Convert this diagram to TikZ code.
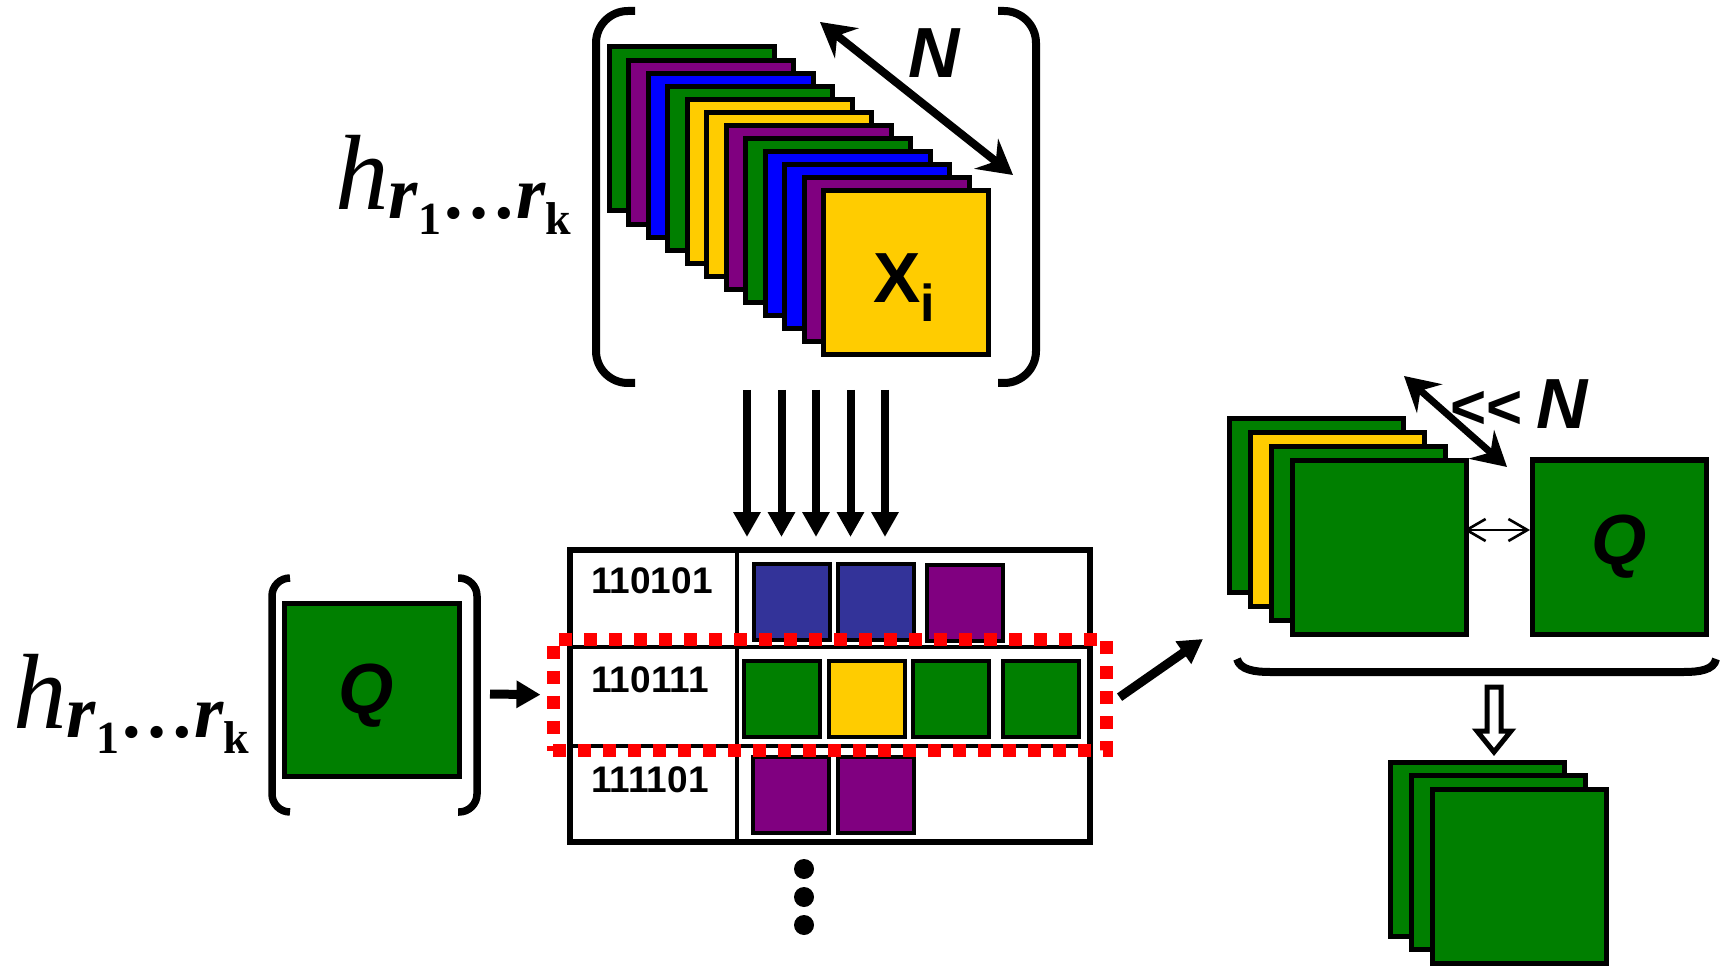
\documentclass[tikz,border=0pt]{standalone}
\usepackage{fontspec}
\setmainfont{Liberation Serif}
\setsansfont{Liberation Sans}
\usetikzlibrary{arrows.meta}
\definecolor{grn}{HTML}{007F00}
\definecolor{prp}{HTML}{800080}
\definecolor{blu}{HTML}{0000FF}
\definecolor{ylw}{HTML}{FFCC00}
\definecolor{ind}{HTML}{333399}
\newcommand{\hlab}{%
{\fontsize{53.5pt}{54pt}\selectfont\itshape h}%
\raisebox{-4.5pt}{\fontsize{37.5pt}{38pt}\selectfont\bfseries\itshape r\raisebox{-8pt}{\fontsize{23pt}{23pt}\selectfont\upshape 1}{\upshape\ldots}r\raisebox{-8pt}{\fontsize{23pt}{23pt}\selectfont\upshape k}}}
\begin{document}
\begin{tikzpicture}[x=0.5pt, y=-0.5pt,
  card/.style={draw, line width=2.5pt, minimum width=82.5pt, minimum height=82pt, inner sep=0pt},
  big/.style={draw, line width=2.5pt, minimum width=87pt, minimum height=87pt, inner sep=0pt},
  cell/.style={draw, line width=2pt, minimum width=38pt, minimum height=38pt, inner sep=0pt},
  brk/.style={line width=4pt, rounded corners=16pt},
  lbl/.style={font=\fontsize{35.5pt}{36pt}\selectfont\sffamily\bfseries},
  bits/.style={font=\fontsize{18.5pt}{19pt}\selectfont\sffamily\bfseries},
  fat/.style={line width=4.5pt, -{Triangle[length=12pt, width=13pt]}},
  both/.style={line width=4pt, {Stealth[length=17pt, width=19pt, inset=6pt]}-{Stealth[length=17pt, width=19pt, inset=6pt]}}]
\useasboundingbox (0,0) rectangle (1729,978);

% pila de imagenes X_i
\foreach \c [count=\i from 0] in {grn,prp,blu,grn,ylw,ylw,prp,grn,blu,blu,prp,ylw}
  \node[card, fill=\c] (x\i) at ({691.5+19.5*\i}, {129+13.05*\i}) {};
\node[lbl, anchor=base west, inner sep=0pt] (xi) at (873,303) {X\raisebox{-9.5pt}{\fontsize{26pt}{26pt}\selectfont i}};
\draw[brk] (635,11) -- (596,11) -- (596,383) -- (635,383);
\draw[brk] (998,11) -- (1036,11) -- (1036,383) -- (998,383);
\coordinate (n1) at (820,22);
\coordinate (n2) at (1013,175);
\draw[both] (n1) -- (n2);
\node[lbl] (nn) at (934,53) {\itshape N};
\node[anchor=base west, inner sep=0pt] (hup) at (335,210) {\hlab};

% tabla de cubetas
\node[draw, line width=3pt, minimum width=260pt, minimum height=146pt, inner sep=0pt] (tab) at (830,696) {};
\draw[line width=1.75pt] (737,550) -- (737,842);
\draw[line width=1.75pt] (570,647) -- (1090,647);
\draw[line width=1.75pt] (570,746) -- (1090,746);
\node[bits] (b1) at (652,581) {110101};
\node[bits] (b2) at (650,680) {110111};
\node[bits] (b3) at (650,780) {111101};
\foreach \c/\x/\y [count=\i] in {ind/792/602, ind/876/602, prp/965/603, grn/782/699, ylw/866.5/699, grn/950.5/699, grn/1041/699, prp/790.5/795, prp/875.5/795}
  \node[cell, fill=\c] (k\i) at (\x,\y) {};
\node[draw=red, line width=6.5pt, dash pattern=on 6.5pt off 6pt, minimum width=276.75pt, minimum height=55.75pt, inner sep=0pt] (sel) at (829.75,694.75) {};
\foreach \y in {869,897,925}
  \fill (804,\y) circle[radius=5pt];

% flechas hacia la tabla
\foreach \x [count=\i] in {747,781.5,816,850.5,885} {
  \coordinate (a\i) at (\x,390);
  \draw[line width=4pt, -{Triangle[length=12.5pt, width=13pt]}, shorten >=5pt] (a\i) -- (a\i |- tab.north);
}

% consulta Q
\node[anchor=base west, inner sep=0pt] (hlo) at (13,728) {\hlab};
\draw[brk, rounded corners=9pt, line width=3.75pt] (290,578) -- (272,578) -- (272,812) -- (290,812);
\draw[brk, rounded corners=9pt, line width=3.75pt] (458,578) -- (477,578) -- (477,812) -- (458,812);
\node[big, fill=grn, minimum width=87.5pt, minimum height=86.5pt] (q) at (372,690) {};
\node[lbl] (ql) at (366,696) {\itshape Q};
\coordinate (qo) at (490,694);
\draw[fat, shorten >=3pt] (qo) -- (sel.west);

% candidatos
\coordinate (ro) at (1203,639);
\draw[fat, shorten <=4pt] ([yshift=-3.5pt]sel.east) -- (ro);
\foreach \c [count=\i from 0] in {grn,ylw,grn,grn}
  \node[big, fill=\c] (s\i) at ({1316.5+21*\i}, {505.5+14*\i}) {};
\node[big, lbl, fill=grn] (rq) at (1619.5,547) {\itshape Q};
\draw[line width=1.3pt, {Straight Barb[length=9.5pt, width=11pt]}-{Straight Barb[length=9.5pt, width=11pt]}, shorten <=-2.5pt] ([yshift=8.75pt]s3.east) -- ([yshift=8.5pt]rq.west);
\coordinate (m1) at (1404,376);
\coordinate (m2) at (1507,467);
\draw[both, line width=3.5pt] (m1) -- (m2);
\node[lbl, anchor=base west, inner sep=0pt] (ll) at (1450,429) {{\fontsize{31pt}{31pt}\selectfont <{}<}\kern7pt{\itshape N}};
\draw[line width=4pt] (1237,659) .. controls (1240,670) and (1255,672) .. (1270,672) -- (1684,672) .. controls (1699,672) and (1714,670) .. (1716,659);
\draw[line width=2.5pt, fill=white] (1487,687) -- (1501,687) -- (1501,731) -- (1511,731) -- (1494,752) -- (1477,731) -- (1487,731) -- cycle;

% resultado
\foreach \i in {0,1,2}
  \node[big, fill=grn] (t\i) at ({1477.5+21*\i}, {849+13.5*\i}) {};
\end{tikzpicture}
\end{document}
